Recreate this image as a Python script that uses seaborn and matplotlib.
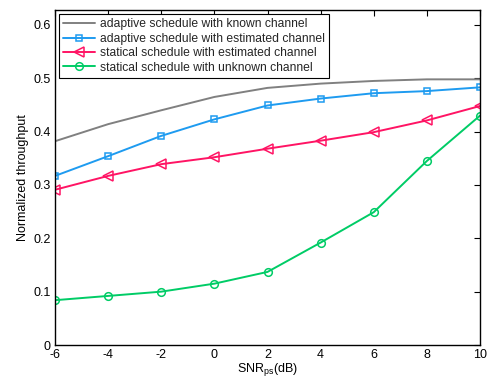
import numpy as np
import pandas as pd
import matplotlib
matplotlib.use("Agg")
import matplotlib.pyplot as plt
import seaborn as sns

snr = [-6, -4, -2, 0, 2, 4, 6, 8, 10]
known = [0.382, 0.414, 0.440, 0.465, 0.482, 0.490, 0.495, 0.498, 0.498]
adapt_est = [0.317, 0.354, 0.392, 0.423, 0.449, 0.462, 0.472, 0.476, 0.483]
stat_est = [0.291, 0.317, 0.339, 0.352, 0.368, 0.383, 0.399, 0.421, 0.448]
stat_unknown = [0.084, 0.092, 0.100, 0.115, 0.137, 0.192, 0.249, 0.345, 0.430]

labels = ["adaptive schedule with known channel",
          "adaptive schedule with estimated channel",
          "statical schedule with estimated channel",
          "statical schedule with unknown channel"]
colors = ["#808080", "#1E9BF0", "#FF1464", "#00CC66"]
markers = ["", "s", "<", "o"]
msizes = [5, 5, 6.5, 5.5]

rows = []
for lab, vals in zip(labels, [known, adapt_est, stat_est, stat_unknown]):
    for x, y in zip(snr, vals):
        rows.append({"SNR": x, "Throughput": y, "Scheme": lab})
df = pd.DataFrame(rows)

sns.set_theme(style="white")
plt.rcParams['font.family'] = ['Liberation Sans', 'DejaVu Sans']
plt.rcParams['mathtext.fontset'] = 'custom'
plt.rcParams['mathtext.rm'] = 'Liberation Sans'
plt.rcParams['xtick.direction'] = 'in'
plt.rcParams['ytick.direction'] = 'in'

fig = plt.figure(figsize=(4.87, 3.77), dpi=100)
ax = fig.add_axes([55/487, 1 - 345/377, (480 - 55)/487, (345 - 10)/377])

for lab, col, mk, ms in zip(labels, colors, markers, msizes):
    sub = df[df["Scheme"] == lab]
    sns.lineplot(data=sub, x="SNR", y="Throughput", ax=ax, color=col,
                 marker=mk if mk else None, markersize=ms, fillstyle='none',
                 markerfacecolor='none',
                 markeredgecolor=col, markeredgewidth=1.1, linewidth=1.4,
                 label=lab)

ax.set_xlim(-6, 10)
ax.set_ylim(0, 0.628)
ax.set_xticks(snr)
ax.set_xticklabels([str(v) for v in snr])
ax.set_yticks([0, 0.1, 0.2, 0.3, 0.4, 0.5, 0.6])
ax.set_yticklabels(["0", "0.1", "0.2", "0.3", "0.4", "0.5", "0.6"])
ax.tick_params(axis='both', which='both', direction='in', top=True, right=True,
               length=4, width=0.8, labelsize=9, colors='black')
ax.tick_params(axis='x', pad=3)
ax.tick_params(axis='y', pad=3)
for s in ax.spines.values():
    s.set_color('black')
    s.set_linewidth(1.0)

ax.set_xlabel(r"SNR$_\mathrm{ps}$(dB)", fontsize=9, labelpad=0, color='black')
ax.set_ylabel("Normalized throughput", fontsize=9, labelpad=3, color='black')

leg = ax.legend(loc='upper left', fontsize=8.7, frameon=True, fancybox=False,
                edgecolor='black', framealpha=1, borderpad=0.35, labelspacing=0.2,
                handlelength=2.6, handletextpad=0.4, borderaxespad=0.35)
leg.get_frame().set_linewidth(0.8)

fig.savefig("out.png", dpi=100)
